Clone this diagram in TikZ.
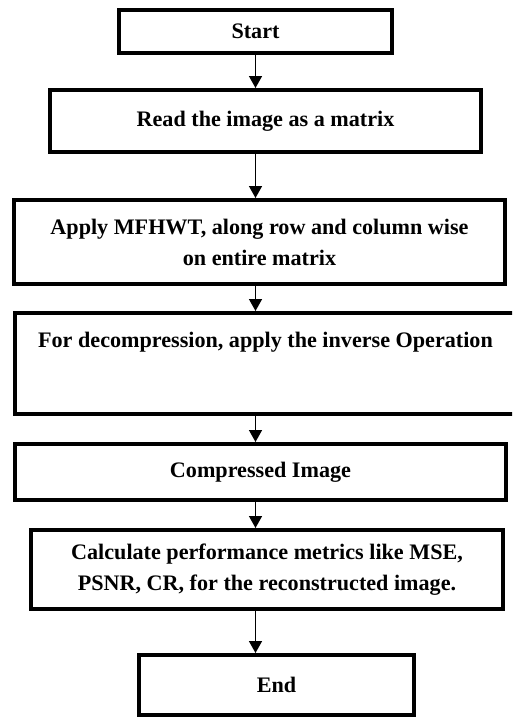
\documentclass[tikz,border=0pt]{standalone}
\usepackage{fontspec}
\setmainfont{Liberation Serif}
\usetikzlibrary{arrows.meta}

\tikzset{
  stepbox/.style={draw, line width=0.08cm, inner sep=0pt, align=center,
    font=\bfseries\fontsize{12.6}{17.6}\selectfont},
  flow/.style={line width=0.03cm, -{Triangle[length=0.24cm,width=0.26cm]}}
}

\begin{document}
\begin{tikzpicture}

\useasboundingbox (0,0) rectangle (10.24,-14.34);
\clip (0,0) rectangle (10.24,-14.34);

%BOXES
\node[stepbox, minimum width=5.46cm, minimum height=0.86cm] (start) at (5.11,-0.63) {Start};
\node[stepbox, minimum width=8.62cm, minimum height=1.24cm] (read) at (5.31,-2.42) {Read the image as a matrix};
\node[stepbox, minimum width=9.82cm, minimum height=1.68cm] (mfhwt) at (5.19,-4.84) {Apply MFHWT, along row and column wise\\on entire matrix};
% text sits at the top of this one
\node[draw, line width=0.08cm, inner ysep=0pt, font=\bfseries\fontsize{12.6}{17.6}\selectfont,
  minimum width=10.02cm, text height=0.68cm, text depth=1.34cm] (decomp) at (5.31,-7.27) {For decompression, apply the inverse Operation};
\node[stepbox, minimum width=9.82cm, minimum height=1.12cm] (compr) at (5.21,-9.44) {Compressed Image};
\node[stepbox, minimum width=9.44cm, minimum height=1.58cm] (metrics) at (5.34,-11.39) {Calculate performance metrics like MSE,\\PSNR, CR, for the reconstructed image.};
\node[stepbox, minimum width=5.50cm, minimum height=1.20cm] (finish) at (5.53,-13.70) {End};

%ARROWS
\draw[flow] (start.south) -- (start.south |- read.north);
\draw[flow] (read.south -| start.south) -- (mfhwt.north -| start.south);
\draw[flow] (mfhwt.south -| start.south) -- (decomp.north -| start.south);
\draw[flow] (decomp.south -| start.south) -- (compr.north -| start.south);
\draw[flow] (compr.south -| start.south) -- (metrics.north -| start.south);
\draw[flow] (metrics.south -| start.south) -- (finish.north -| start.south);

\end{tikzpicture}
\end{document}
